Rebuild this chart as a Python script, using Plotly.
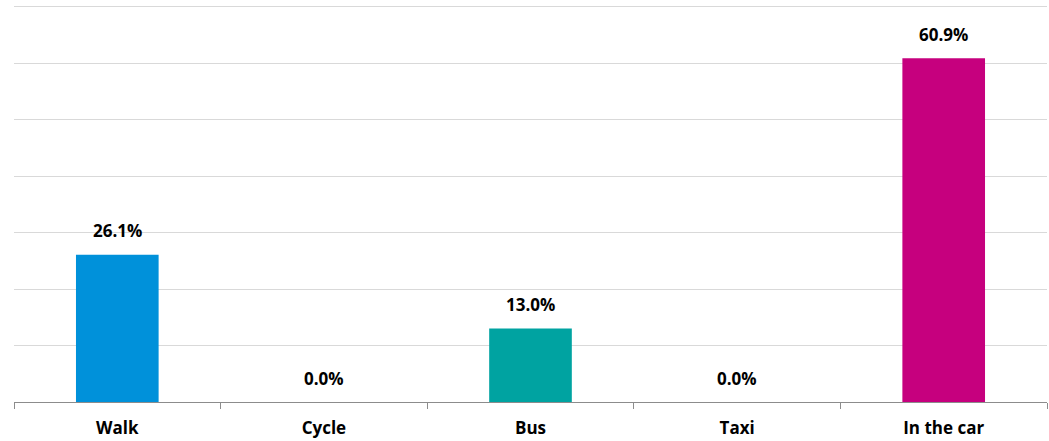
import plotly.graph_objects as go

modes = ["Walk", "Cycle", "Bus", "Taxi", "In the car"]
shares = [26.1, 0.0, 13.0, 0.0, 60.9]
bar_colors = ["#0091DA", "#005EB8", "#00A3A1", "#483698", "#C6007E"]

FONT = "'Open Sans', sans-serif"

fig = go.Figure()
fig.add_trace(go.Bar(
    x=modes,
    y=shares,
    marker=dict(color=bar_colors, line=dict(width=0)),
    width=0.4,
    hoverinfo="skip",
))

# value labels above each bar
for m, v in zip(modes, shares):
    fig.add_annotation(
        x=m, y=v, text=f"<b>{v:.1f}%</b>", showarrow=False,
        yanchor="middle", yshift=24,
        font=dict(family=FONT, size=17, color="#000000"),
    )

fig.update_layout(
    width=1049, height=441,
    margin=dict(l=14, r=2, t=4, b=37),
    paper_bgcolor="white", plot_bgcolor="white",
    showlegend=False,
    bargap=0.6,
)
fig.update_xaxes(
    type="category",
    showline=True, linecolor="#8c8c8c", linewidth=1,
    ticks="outside", ticklen=6, tickcolor="#8c8c8c",
    tickson="boundaries",
    ticklabelstandoff=11,
    tickfont=dict(family=FONT, size=17, color="#000000", weight="bold"),
    showgrid=False,
)
fig.update_yaxes(
    range=[0, 70.5], tickvals=[10, 20, 30, 40, 50, 60, 70], showticklabels=False,
    showgrid=True, gridcolor="#d9d9d9", gridwidth=1,
    zeroline=False, showline=False,
)

fig.write_html("out.html")
